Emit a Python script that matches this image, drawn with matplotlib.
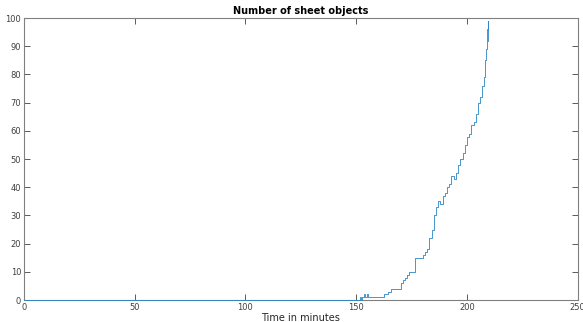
import matplotlib
matplotlib.use("Agg")
import matplotlib.pyplot as plt

# step data (minutes, object count)
times = [0, 151.5, 152, 152.5, 153.5, 154, 155, 155.5, 162.5, 164.5, 165.5,
         170, 171, 172, 173, 174, 176.5, 180, 181, 182, 183,
         184, 185, 186, 187, 188, 189, 190, 191, 192, 193, 194, 195, 196, 197,
         198, 199, 200, 201, 202, 203, 204, 205, 206, 207,
         207.5, 208, 208.5, 209, 209.3, 209.6]
values = [0, 1, 0, 1, 2, 1, 2, 1, 2, 3, 4,
          6, 7, 8, 9, 10, 15, 16, 17, 18, 22,
          25, 30, 33, 35, 34, 37, 38, 40, 41, 44, 43, 45, 48, 50,
          52, 55, 58, 59, 62, 63, 66, 70, 72, 76,
          79, 85, 89, 96, 99, 92]

xticks = [0, 50, 100, 150, 200, 250]
yticks = list(range(0, 101, 10))

fig = plt.figure(figsize=(5.83, 3.22), dpi=100)
ax = fig.add_axes([0.041, 0.068, 0.95, 0.876])

# draw above the spines so the zero stretch shows as a blue line like the original
ax.plot(times, values, drawstyle="steps-post", color="#2a86c8", linewidth=0.6,
        zorder=3, clip_on=False)

ax.set_xlim(0, 250)
ax.set_ylim(0, 100)
ax.set_xticks(xticks)
ax.set_yticks(yticks)
ax.tick_params(direction="in", top=True, right=True, length=4, width=0.6,
               labelsize=6, colors="#404040", pad=2)
for s in ax.spines.values():
    s.set_color("#808080")
    s.set_linewidth(0.8)

ax.set_title("Number of sheet objects", fontsize=7, fontweight="bold", pad=3)
ax.set_xlabel("Time in minutes", fontsize=7, color="#262626", labelpad=1)

fig.savefig("out.png", dpi=100)
